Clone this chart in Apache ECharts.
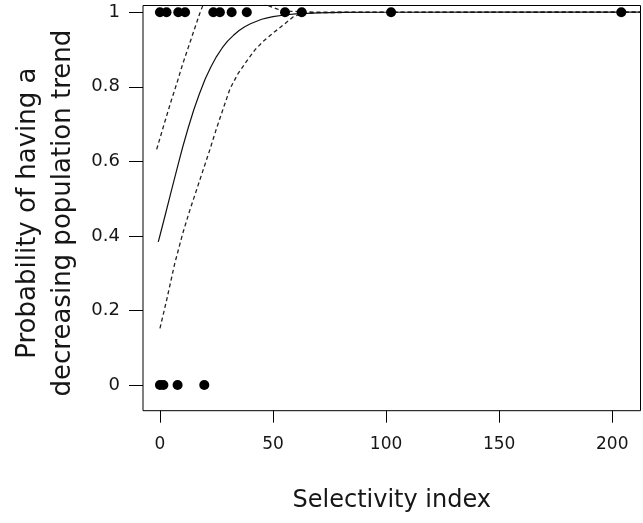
<!DOCTYPE html>
<html>
<head>
<meta charset="utf-8">
<script src="https://cdn.jsdelivr.net/npm/echarts@6/dist/echarts.min.js"></script>
<style>
  html, body { margin: 0; padding: 0; background: #fff; }
  #chart { width: 643px; height: 523px; }
</style>
</head>
<body>
<div id="chart"></div>
<script>
// Observations (selectivity index) with decreasing trend (1) and not (0)
const decreasingX = [0, 2.9, 8.1, 11.1, 23.6, 26.5, 31.7, 38.4, 55.3, 62.7, 102.2, 204];
const notDecreasingX = [0, 1.5, 7.8, 19.6];

// Fitted probability curve
const fitX = [-0.75, 0, 2.5, 5, 7.5, 10, 12.5, 15, 17.5, 20, 22.5, 25, 27.5, 30, 32.5, 35, 37.5, 40, 42.5, 45, 47.5, 50, 55, 60, 65, 70, 80, 100, 150, 212.5];
const fitY = [0.384, 0.401, 0.460, 0.520, 0.579, 0.637, 0.690, 0.739, 0.782, 0.821, 0.853, 0.881, 0.904, 0.923, 0.938, 0.951, 0.961, 0.969, 0.975, 0.981, 0.985, 0.988, 0.9925, 0.9953, 0.997, 0.998, 0.9993, 0.9999, 1.0, 1.0];

// Lower confidence bound
const lowerX = [0, 3, 6.5, 10, 13, 16, 19, 22, 25, 28, 31, 34.5, 38.5, 42, 45.7, 50, 54.6, 59, 63, 70, 90, 212.5];
const lowerY = [0.152, 0.229, 0.325, 0.405, 0.465, 0.52, 0.575, 0.63, 0.688, 0.742, 0.795, 0.835, 0.87, 0.899, 0.922, 0.944, 0.966, 0.988, 0.997, 0.999, 0.9995, 1.0];

// Upper confidence bound (exceeds the plot top, clipped)
const upperX = [-1.45, 2, 5, 7.5, 10, 12.5, 15, 17.5, 20, 25, 32, 40, 47, 52, 57, 63, 70, 90, 212.5];
const upperY = [0.632, 0.703, 0.763, 0.81, 0.86, 0.905, 0.95, 0.995, 1.035, 1.08, 1.085, 1.05, 1.02, 1.008, 1.003, 1.001, 1.0, 1.0, 1.0];

// Axis ticks
const xTicks = [0, 50, 100, 150, 200];
const yTicks = [0, 0.2, 0.4, 0.6, 0.8, 1];
const yTickLabels = ['0', '0.2', '0.4', '0.6', '0.8', '1'];

const xTitle = 'Selectivity index';
const yTitle = 'Probability of having a\ndecreasing population trend';

const pairs = (xs, ys) => xs.map((x, i) => [x, ys[i]]);

const chart = echarts.init(document.getElementById('chart'), null, { renderer: 'canvas' });
const font = 'DejaVu Sans';
const textColor = '#161616';

chart.setOption({
  animation: false,
  backgroundColor: '#ffffff',
  grid: {
    left: 143, top: 5.5, right: 2.5, bottom: 112.3,
    show: true, borderColor: '#000', borderWidth: 1,
    containLabel: false, outerBoundsMode: 'none'
  },
  xAxis: {
    type: 'value',
    min: -7.5, max: 212.5,
    splitLine: { show: false },
    axisLine: { show: false, onZero: false },
    axisTick: { show: true, length: 12, inside: false, customValues: xTicks, lineStyle: { color: '#000', width: 1 } },
    axisLabel: { customValues: xTicks, margin: 25, fontFamily: font, fontSize: 17, color: textColor },
    name: xTitle,
    nameLocation: 'middle',
    nameGap: 78,
    nameTextStyle: { fontFamily: font, fontSize: 24, color: textColor }
  },
  yAxis: {
    type: 'value',
    min: -0.069, max: 1.018,
    splitLine: { show: false },
    axisLine: { show: false, onZero: false },
    axisTick: { show: true, length: 14, inside: false, customValues: yTicks, lineStyle: { color: '#000', width: 1 } },
    axisLabel: {
      customValues: yTicks, margin: 23, fontFamily: font, fontSize: 18, color: textColor,
      formatter: (v) => { const i = yTicks.findIndex(t => Math.abs(t - v) < 1e-9); return i >= 0 ? yTickLabels[i] : ''; }
    },
    name: yTitle,
    nameLocation: 'middle',
    nameRotate: 90,
    nameGap: 61,
    nameTextStyle: { fontFamily: font, fontSize: 26, color: textColor, lineHeight: 35, align: 'center', padding: [0, 10, 0, 0] }
  },
  series: [
    {
      type: 'line', data: pairs(upperX, upperY), showSymbol: false, smooth: false, clip: true,
      lineStyle: { color: '#222', width: 1.3, type: [4, 3] }, z: 2
    },
    {
      type: 'line', data: pairs(lowerX, lowerY), showSymbol: false, smooth: false, clip: true,
      lineStyle: { color: '#222', width: 1.3, type: [4, 3] }, z: 2
    },
    {
      type: 'line', data: pairs(fitX, fitY), showSymbol: false, smooth: false, clip: true,
      lineStyle: { color: '#111', width: 1.2, type: 'solid' }, z: 3
    },
    {
      type: 'scatter', data: decreasingX.map(x => [x, 1]), symbol: 'circle', symbolSize: 10,
      itemStyle: { color: '#000', opacity: 1 }, z: 5
    },
    {
      type: 'scatter', data: notDecreasingX.map(x => [x, 0]), symbol: 'circle', symbolSize: 10,
      itemStyle: { color: '#000', opacity: 1 }, z: 5
    }
  ]
});
</script>
</body>
</html>
